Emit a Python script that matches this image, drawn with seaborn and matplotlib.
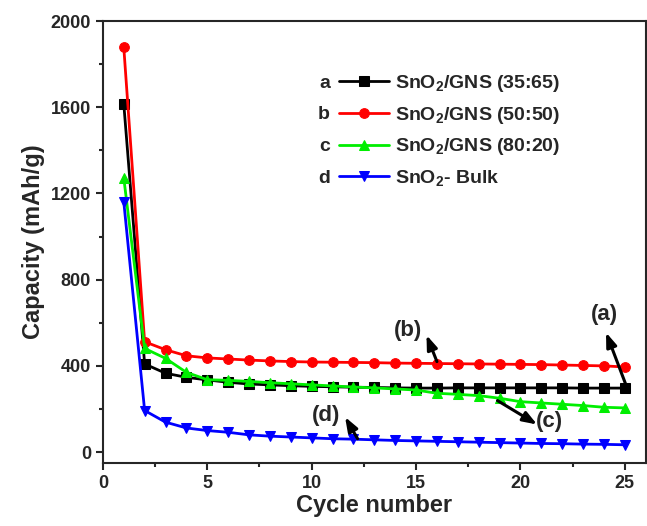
import numpy as np
import pandas as pd
import matplotlib
matplotlib.use("Agg")
import matplotlib.pyplot as plt
import seaborn as sns

# data
cycles = list(range(1, 26))
cap_a = [1617, 409, 366, 347, 335, 324, 316, 312, 308, 305, 303, 301, 300, 298,
         297, 297, 298, 298, 298, 298, 298, 298, 297, 297, 297]
cap_b = [1880, 512, 475, 447, 437, 432, 427, 423, 420, 418, 417, 416, 415, 413,
         412, 411, 410, 409, 408, 407, 406, 404, 402, 400, 395]
cap_c = [1273, 481, 435, 370, 336, 333, 328, 322, 317, 312, 307, 302, 298, 293,
         288, 273, 268, 262, 250, 234, 228, 222, 216, 208, 205]
cap_d = [1162, 193, 139, 112, 100, 92, 80, 74, 70, 66, 62, 60, 57, 54,
         52, 50, 48, 46, 44, 42, 40, 39, 37, 36, 34]

letters = ["a", "b", "c", "d"]
labels = [r"SnO$_2$/GNS (35:65)", r"SnO$_2$/GNS (50:50)",
          r"SnO$_2$/GNS (80:20)", r"SnO$_2$- Bulk"]
colors = ["black", "red", "#00ee00", "blue"]
markers = ["s", "o", "^", "v"]

# arrow notes: label, text pos, arrow head, arrow tail
notes = [("(a)", (24.0, 640), (24.1, 555), (25.1, 300)),
         ("(b)", (14.6, 562), (15.5, 543), (16.0, 420)),
         ("(c)", (21.4, 140), (20.8, 128), (18.9, 239)),
         ("(d)", (10.7, 169), (11.6, 163), (12.2, 62))]

sns.set_style("ticks")
plt.rcParams["font.family"] = ["Liberation Sans", "DejaVu Sans"]
plt.rcParams["font.weight"] = "bold"
plt.rcParams["mathtext.fontset"] = "custom"
plt.rcParams["mathtext.rm"] = "Liberation Sans:bold"
plt.rcParams["mathtext.bf"] = "Liberation Sans:bold"
plt.rcParams["mathtext.default"] = "bf"

fig = plt.figure(figsize=(6.47, 5.26), dpi=100)
ax = fig.add_axes([0.159, 0.120, 0.839, 0.840])

for vals, lab, c, m in zip([cap_a, cap_b, cap_c, cap_d], labels, colors, markers):
    sns.lineplot(x=cycles, y=vals, ax=ax, color=c, marker=m, markersize=7,
                 markeredgecolor=c, linewidth=2, label=lab)

ax.set_xlim(0, 26)
ax.set_ylim(-50, 2000)
ax.set_xticks([0, 5, 10, 15, 20, 25])
ax.set_xticks(np.arange(2.5, 26, 5), minor=True)
ax.set_yticks([0, 400, 800, 1200, 1600, 2000])
ax.set_yticks([200, 600, 1000, 1400, 1800], minor=True)
ax.tick_params(which="major", direction="out", length=5, width=1.5, labelsize=13)
ax.tick_params(which="minor", direction="out", length=3, width=1.5)
for s in ax.spines.values():
    s.set_linewidth(1.5)
ax.set_xlabel("Cycle number", fontsize=17, fontweight="bold", labelpad=2)
ax.set_ylabel("Capacity (mAh/g)", fontsize=17, fontweight="bold", labelpad=4)

for txt, tpos, head, tail in notes:
    ax.text(tpos[0], tpos[1], txt, fontsize=16, fontweight="bold", ha="center", va="center")
    ax.annotate("", xy=head, xytext=tail, zorder=5,
                arrowprops=dict(arrowstyle="-|>,head_length=0.6,head_width=0.22",
                                color="black", lw=2.2, mutation_scale=14,
                                shrinkA=0, shrinkB=0))

leg = ax.legend(loc="upper left", bbox_to_anchor=(0.42, 0.90), frameon=False,
                fontsize=14, handlelength=2.6, handletextpad=0.3, labelspacing=0.55,
                borderaxespad=0)

# letters a-d in front of the legend handles
fig.canvas.draw()
for h, let in zip(leg.legend_handles, letters):
    bb = h.get_window_extent(fig.canvas.get_renderer())
    ax.annotate(let, xy=(bb.x0 - 4, (bb.y0 + bb.y1) / 2 - 2), xycoords="figure pixels",
                ha="right", va="center", fontsize=14, fontweight="bold")

fig.savefig("out.png", dpi=100)
